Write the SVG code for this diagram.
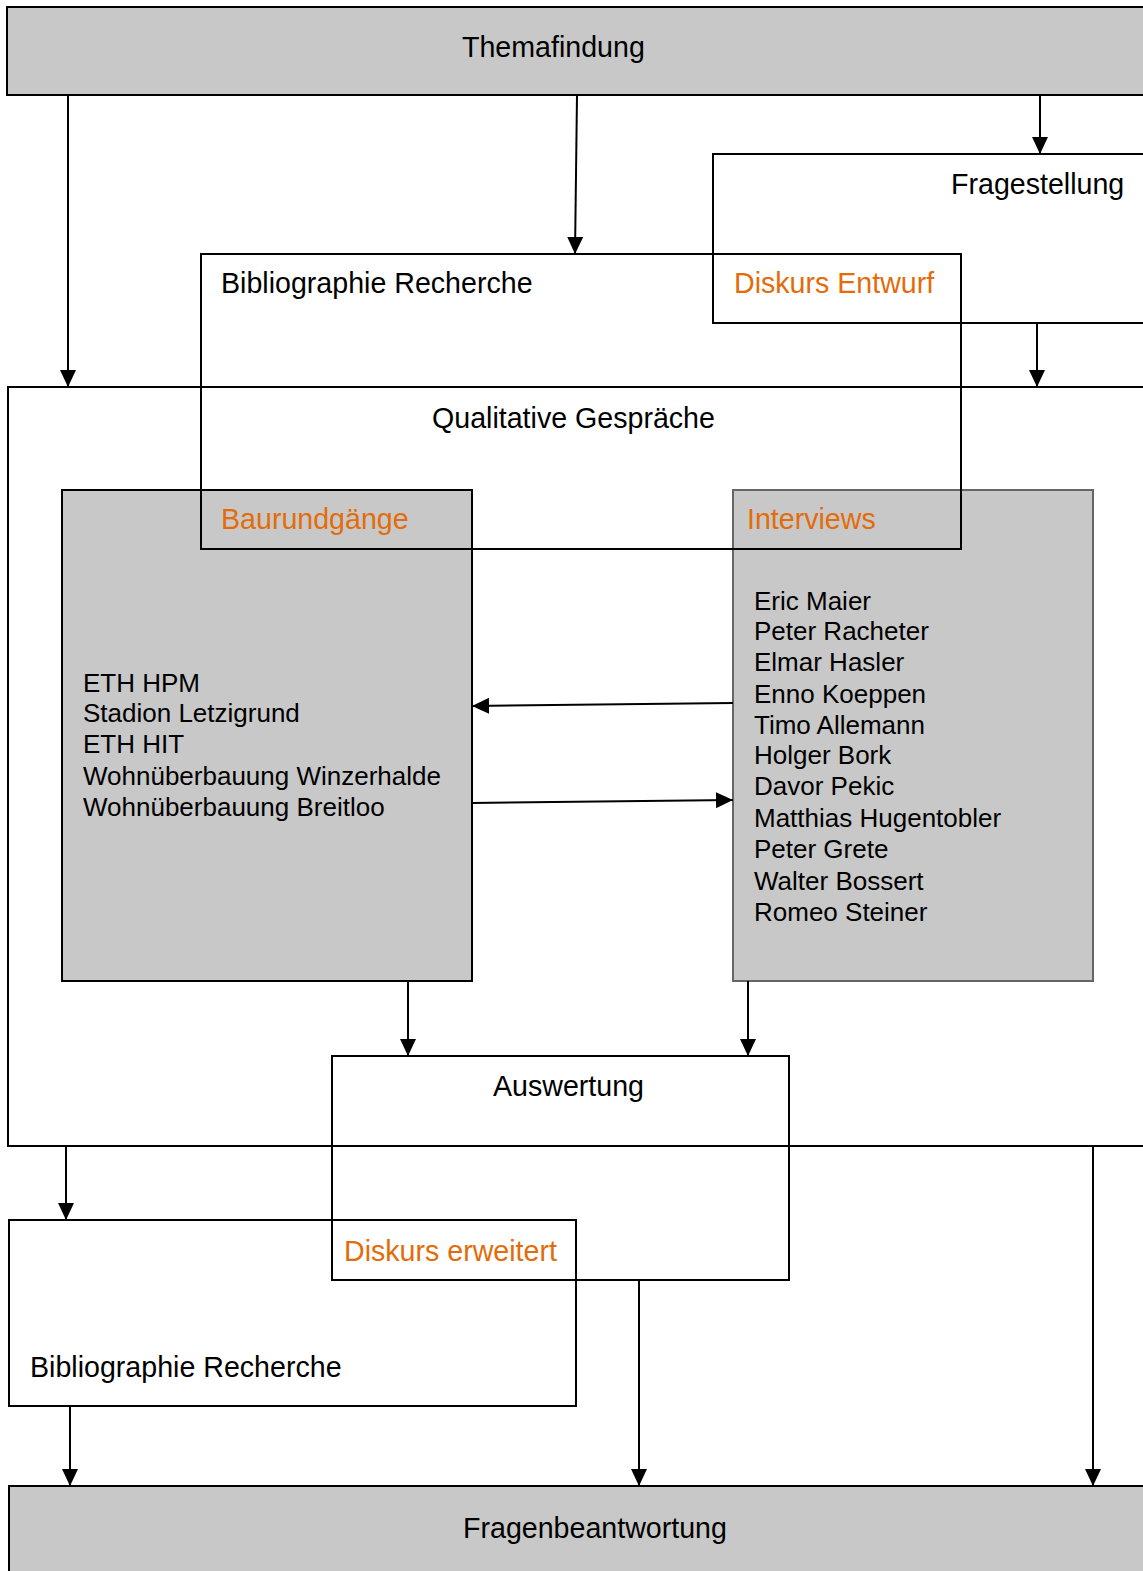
<svg xmlns="http://www.w3.org/2000/svg" width="1143" height="1571" viewBox="0 0 1143 1571">
<style>
text{font-family:"Liberation Sans",Arial,sans-serif;fill:#000}
.t{font-size:28.6px}
.l{font-size:26px}
.o{fill:#E36C0A}
.box{fill:none;stroke:#000;stroke-width:2}
.gray{fill:#c8c8c8;stroke:#000;stroke-width:2}
.edge{fill:none;stroke:#000;stroke-width:2}
</style>
<defs>
<marker id="ah" markerUnits="userSpaceOnUse" markerWidth="17" markerHeight="16" refX="17" refY="8" orient="auto">
<path d="M0,0 L17,8 L0,16 z" fill="#000"/>
</marker>
</defs>
<rect width="1143" height="1571" fill="#fff"/>
<g id="themafindung">
<rect class="gray" x="7" y="7" width="1160" height="88"/>
<text class="t" x="462" y="57">Themafindung</text>
</g>
<g id="fragenbeantwortung">
<rect class="gray" x="9" y="1486" width="1160" height="110"/>
<text class="t" x="463" y="1538">Fragenbeantwortung</text>
</g>
<g id="baurundgaenge">
<rect class="gray" x="62" y="490" width="410" height="491"/>
<text class="t o" x="221" y="529">Baurundgänge</text>
<text class="l" x="83" y="692">ETH HPM</text>
<text class="l" x="83" y="722">Stadion Letzigrund</text>
<text class="l" x="83" y="753">ETH HIT</text>
<text class="l" x="83" y="785">Wohnüberbauung Winzerhalde</text>
<text class="l" x="83" y="816">Wohnüberbauung Breitloo</text>
</g>
<g id="interviews">
<rect class="gray" x="733" y="490" width="360" height="491" style="stroke:#666"/>
<text class="t o" x="747" y="529">Interviews</text>
<text class="l" x="754" y="610">Eric Maier</text>
<text class="l" x="754" y="640">Peter Racheter</text>
<text class="l" x="754" y="671">Elmar Hasler</text>
<text class="l" x="754" y="703">Enno Koeppen</text>
<text class="l" x="754" y="734">Timo Allemann</text>
<text class="l" x="754" y="764">Holger Bork</text>
<text class="l" x="754" y="795">Davor Pekic</text>
<text class="l" x="754" y="827">Matthias Hugentobler</text>
<text class="l" x="754" y="858">Peter Grete</text>
<text class="l" x="754" y="890">Walter Bossert</text>
<text class="l" x="754" y="921">Romeo Steiner</text>
</g>
<g id="fragestellung">
<rect class="box" x="713" y="154" width="450" height="169"/>
<text class="t" x="951" y="194">Fragestellung</text>
</g>
<g id="bibliographie1">
<rect class="box" x="201" y="254" width="760" height="295"/>
<text class="t" x="221" y="293">Bibliographie Recherche</text>
<text class="t o" x="734" y="293">Diskurs Entwurf</text>
</g>
<g id="qualitative">
<rect class="box" x="8" y="387" width="1160" height="759"/>
<text class="t" x="432" y="428">Qualitative Gespräche</text>
</g>
<g id="auswertung">
<rect class="box" x="332" y="1056" width="457" height="224"/>
<text class="t" x="493" y="1096">Auswertung</text>
</g>
<g id="bibliographie2">
<rect class="box" x="9" y="1220" width="567" height="186"/>
<text class="t o" x="344" y="1261">Diskurs erweitert</text>
<text class="t" x="30" y="1377">Bibliographie Recherche</text>
</g>
<g id="connectors">
<line class="edge" x1="68" y1="95" x2="68" y2="387" marker-end="url(#ah)"/>
<line class="edge" x1="577" y1="95" x2="575" y2="254" marker-end="url(#ah)"/>
<line class="edge" x1="1040" y1="95" x2="1040" y2="154" marker-end="url(#ah)"/>
<line class="edge" x1="1037" y1="323" x2="1037" y2="387" marker-end="url(#ah)"/>
<line class="edge" x1="733" y1="703" x2="472" y2="706" marker-end="url(#ah)"/>
<line class="edge" x1="472" y1="803" x2="733" y2="800" marker-end="url(#ah)"/>
<line class="edge" x1="408" y1="981" x2="408" y2="1056" marker-end="url(#ah)"/>
<line class="edge" x1="748" y1="981" x2="748" y2="1056" marker-end="url(#ah)"/>
<line class="edge" x1="66" y1="1146" x2="66" y2="1220" marker-end="url(#ah)"/>
<line class="edge" x1="1093" y1="1146" x2="1093" y2="1486" marker-end="url(#ah)"/>
<line class="edge" x1="639" y1="1280" x2="639" y2="1486" marker-end="url(#ah)"/>
<line class="edge" x1="70" y1="1406" x2="70" y2="1486" marker-end="url(#ah)"/>
</g>
</svg>
